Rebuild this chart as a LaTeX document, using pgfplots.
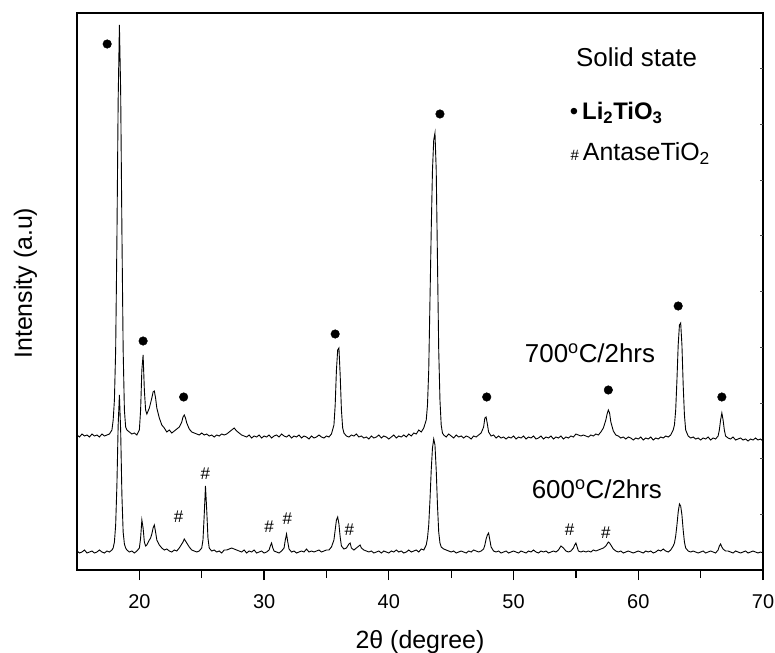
\documentclass[border=0pt]{standalone}
\usepackage{fontspec}
\setmainfont{Liberation Sans}
\usepackage{pgfplots}
\pgfplotsset{compat=1.18}
\usepackage{pgfplotstable}

% 600 C / 2 hrs pattern (y in plot units, 0 = bottom of the frame)
\pgfplotstableread{
x y
15.0 19
15.2 17
15.4 18
15.6 20
15.8 17
16.0 18
16.2 19
16.4 17
16.6 18
16.8 20
17.0 18
17.2 17
17.4 19
17.6 18
17.8 20
17.9 22
18.0 28
18.1 45
18.2 85
18.3 145
18.4 175
18.5 140
18.6 75
18.7 38
18.8 26
18.9 22
19.0 20
19.2 18
19.4 19
19.6 17
19.8 19
20.0 22
20.1 32
20.2 50
20.3 42
20.4 28
20.5 24
20.6 25
20.8 30
20.9 32
21.0 36
21.1 42
21.2 45
21.3 38
21.4 30
21.6 25
21.8 22
22.0 20
22.2 21
22.4 19
22.6 18
22.8 20
23.0 19
23.2 22
23.4 26
23.5 28
23.6 31
23.7 29
23.8 27
24.0 23
24.2 20
24.4 19
24.6 18
24.8 19
25.0 22
25.1 30
25.2 55
25.3 84
25.4 60
25.5 32
25.6 22
25.8 19
26.0 20
26.2 18
26.4 19
26.6 17
26.8 20
27.0 20
27.2 21
27.4 22
27.6 21
27.8 20
28.0 19
28.2 18
28.4 20
28.6 17
28.8 19
29.0 18
29.2 20
29.4 17
29.6 18
29.8 19
30.0 17
30.2 18
30.4 20
30.5 24
30.6 27
30.7 22
30.8 19
31.0 18
31.2 17
31.4 19
31.6 22
31.7 30
31.8 36
31.9 28
32.0 21
32.2 18
32.4 19
32.6 17
32.8 18
33.0 19
33.2 18
33.4 21
33.6 18
33.8 19
34.0 18
34.2 19
34.4 20
34.6 18
34.8 19
35.0 20
35.2 20
35.4 23
35.6 30
35.7 40
35.8 50
35.9 53
36.0 46
36.1 33
36.2 24
36.4 21
36.6 22
36.7 24
36.8 26
36.9 27
37.0 22
37.2 20
37.4 22
37.6 24
37.7 25
37.8 22
38.0 20
38.2 19
38.4 18
38.6 19
38.8 17
39.0 18
39.2 19
39.4 17
39.6 19
39.8 18
40.0 17
40.2 19
40.4 18
40.6 20
40.8 18
41.0 19
41.2 17
41.4 18
41.6 20
41.8 18
42.0 19
42.2 20
42.4 18
42.6 21
42.8 20
43.0 25
43.1 32
43.2 45
43.3 70
43.4 100
43.5 122
43.6 131
43.7 125
43.8 100
43.9 65
44.0 38
44.1 27
44.2 23
44.4 21
44.6 20
44.8 19
45.0 18
45.2 19
45.4 17
45.6 18
45.8 19
46.0 18
46.2 17
46.4 19
46.6 18
46.8 20
47.0 19
47.2 18
47.4 19
47.6 21
47.7 25
47.8 31
47.9 35
48.0 37
48.1 30
48.2 23
48.4 19
48.6 18
48.8 19
49.0 17
49.2 18
49.4 19
49.6 17
49.8 18
50.0 19
50.2 18
50.4 17
50.6 19
50.8 18
51.0 17
51.2 19
51.4 18
51.6 20
51.8 18
52.0 17
52.2 19
52.4 18
52.6 19
52.8 17
53.0 18
53.2 19
53.4 18
53.6 20
53.8 24
54.0 22
54.2 19
54.4 18
54.6 19
54.8 22
54.9 25
55.0 27
55.1 23
55.2 19
55.4 18
55.6 19
55.8 18
56.0 19
56.2 18
56.4 20
56.6 19
56.8 20
57.0 21
57.2 22
57.4 24
57.6 28
57.7 27
57.8 25
58.0 21
58.2 19
58.4 18
58.6 19
58.8 17
59.0 18
59.2 19
59.4 18
59.6 17
59.8 18
60.0 19
60.2 18
60.4 17
60.6 19
60.8 18
61.0 19
61.2 17
61.4 18
61.6 20
61.8 19
62.0 21
62.2 19
62.4 18
62.6 20
62.8 24
62.9 27
63.0 34
63.1 45
63.2 58
63.3 66
63.4 64
63.5 55
63.6 40
63.7 28
63.8 22
64.0 19
64.2 18
64.4 19
64.6 18
64.8 17
65.0 18
65.2 19
65.4 17
65.6 18
65.8 19
66.0 18
66.2 17
66.4 20
66.5 24
66.6 26
66.7 23
66.8 21
67.0 19
67.2 19
67.4 18
67.6 17
67.8 19
68.0 18
68.2 17
68.4 18
68.6 19
68.8 17
69.0 18
69.2 19
69.4 18
69.6 17
69.8 18
70.0 17
}\lowT

% 700 C / 2 hrs pattern
\pgfplotstableread{
x y
15.0 135
15.2 133
15.4 136
15.6 134
15.8 135
16.0 133
16.2 136
16.4 134
16.6 135
16.8 133
17.0 136
17.2 134
17.4 135
17.6 136
17.8 140
17.9 150
18.0 170
18.1 220
18.2 330
18.3 470
18.4 545
18.5 480
18.6 340
18.7 220
18.8 160
18.9 143
19.0 140
19.2 138
19.4 136
19.6 137
19.8 135
20.0 140
20.1 160
20.2 200
20.3 215
20.4 180
20.5 160
20.6 156
20.8 162
21.0 172
21.1 178
21.2 179
21.3 172
21.4 162
21.6 152
21.8 145
22.0 142
22.2 138
22.4 140
22.6 137
22.8 139
23.0 141
23.2 143
23.4 148
23.5 153
23.6 155
23.7 152
23.8 147
24.0 141
24.2 138
24.4 137
24.6 136
24.8 135
25.0 137
25.2 135
25.4 136
25.6 134
25.8 135
26.0 133
26.2 135
26.4 134
26.6 136
26.8 135
27.0 136
27.2 138
27.4 140
27.6 142
27.8 139
28.0 137
28.2 135
28.4 134
28.6 133
28.8 135
29.0 132
29.2 134
29.4 133
29.6 135
29.8 132
30.0 134
30.2 133
30.4 135
30.6 132
30.8 134
31.0 135
31.2 133
31.4 136
31.6 134
31.8 133
32.0 135
32.2 132
32.4 134
32.6 133
32.8 135
33.0 132
33.2 134
33.4 133
33.6 131
33.8 134
34.0 132
34.2 133
34.4 135
34.6 133
34.8 132
35.0 134
35.2 133
35.4 136
35.6 145
35.7 165
35.8 200
35.9 220
36.0 222
36.1 195
36.2 160
36.3 142
36.4 137
36.6 134
36.8 133
37.0 135
37.2 134
37.4 136
37.6 133
37.8 134
38.0 132
38.2 133
38.4 131
38.6 134
38.8 132
39.0 133
39.2 135
39.4 132
39.6 134
39.8 133
40.0 131
40.2 133
40.4 135
40.6 132
40.8 134
41.0 133
41.2 135
41.4 133
41.6 136
41.8 134
42.0 137
42.2 136
42.4 140
42.6 138
42.8 142
43.0 150
43.1 165
43.2 200
43.3 270
43.4 340
43.5 400
43.6 430
43.7 437
43.8 400
43.9 310
44.0 220
44.1 170
44.2 145
44.3 137
44.4 135
44.6 133
44.8 136
45.0 134
45.2 132
45.4 135
45.6 133
45.8 134
46.0 132
46.2 134
46.4 133
46.6 131
46.8 134
47.0 133
47.2 135
47.4 137
47.6 143
47.7 152
47.8 153
47.9 146
48.0 138
48.2 134
48.4 135
48.6 132
48.8 134
49.0 132
49.2 133
49.4 131
49.6 133
49.8 132
50.0 134
50.2 131
50.4 133
50.6 132
50.8 134
51.0 131
51.2 133
51.4 132
51.6 134
51.8 131
52.0 132
52.2 134
52.4 131
52.6 133
52.8 132
53.0 134
53.2 131
53.4 133
53.6 132
53.8 134
54.0 131
54.2 133
54.4 132
54.6 134
54.8 133
55.0 136
55.2 135
55.4 134
55.6 135
55.8 134
56.0 133
56.2 135
56.4 134
56.6 136
56.8 135
57.0 138
57.2 142
57.4 150
57.5 156
57.6 160
57.7 157
57.8 148
58.0 139
58.2 135
58.4 134
58.6 132
58.8 133
59.0 131
59.2 133
59.4 132
59.6 130
59.8 132
60.0 131
60.2 133
60.4 130
60.6 132
60.8 131
61.0 133
61.2 130
61.4 132
61.6 131
61.8 133
62.0 132
62.2 134
62.4 133
62.6 135
62.8 140
62.9 145
63.0 160
63.1 190
63.2 225
63.3 245
63.4 247
63.5 225
63.6 185
63.7 155
63.8 140
64.0 134
64.2 132
64.4 133
64.6 131
64.8 132
65.0 130
65.2 132
65.4 131
65.6 133
65.8 130
66.0 132
66.2 131
66.4 134
66.5 140
66.6 150
66.7 157
66.8 150
66.9 140
67.0 134
67.2 132
67.4 131
67.6 133
67.8 130
68.0 131
68.2 132
68.4 130
68.6 131
68.8 129
69.0 131
69.2 130
69.4 132
69.6 130
69.8 131
70.0 129
}\highT

\begin{document}
\begin{tikzpicture}
\begin{axis}[
    name=ax,
    scale only axis,
    width=686bp, height=557bp,
    xmin=15, xmax=70, ymin=0, ymax=557,
    xtick={20,30,40,50,60,70},
    minor x tick num=1,
    xtick pos=bottom,
    xtick align=outside,
    major tick length=10bp,
    minor tick length=8bp,
    ytick=\empty,
    extra y ticks={55.7,111.4,167.1,222.8,278.5,334.2,389.9,445.6,501.3},
    extra y tick labels={},
    extra y tick style={ytick pos=right, ytick align=inside,
        major tick length=3bp, tick style={line width=0.6bp, black!70}},
    every tick/.style={black, line width=1.2bp},
    axis line style={line width=1.6bp},
    /pgf/number format/assume math mode=true,
    xticklabel style={font=\fontsize{20}{24}\selectfont, yshift=-11bp},
    xlabel={2θ (degree)},
    xlabel style={at={([yshift=-78bp]axis description cs:0.5,0)}, anchor=base,
        font=\fontsize{25}{30}\selectfont},
    ylabel={Intensity (a.u)},
    ylabel style={at={([xshift=-45bp]axis description cs:0,0.515)}, anchor=base,
        font=\fontsize{25}{30}\selectfont},
    clip=false,
]
\addplot[black, line width=0.9bp] table[x=x, y=y] {\lowT};
\addplot[black, line width=0.9bp] table[x=x, y=y] {\highT};

% Li2TiO3 reflections
\addplot[only marks, mark=*, mark size=4.3bp, black] coordinates {
    (17.42,526) (20.3,229) (23.55,173) (35.7,236) (44.1,456)
    (47.85,173) (57.6,180) (63.2,264) (66.7,173)
};
% anatase TiO2 reflections
\addplot[only marks, mark=*, mark size=0pt, draw=none,
    nodes near coords={\#}, nodes near coords align={center},
    every node near coord/.append style={font=\fontsize{17}{20}\selectfont, anchor=center, inner sep=0pt}]
    coordinates {
    (23.15,53) (25.28,96) (30.4,43) (31.87,51) (36.83,40) (54.5,40) (57.4,37)
};

\node[anchor=base west, inner sep=0pt, font=\fontsize{26}{30}\selectfont]
    at (axis cs:50.9,208) {700\textsuperscript{o}C/2hrs};
\node[anchor=base west, inner sep=0pt, font=\fontsize{26}{30}\selectfont]
    at (axis cs:51.45,72) {600\textsuperscript{o}C/2hrs};
\node[anchor=base west, inner sep=0pt, font=\fontsize{26}{30}\selectfont]
    at (axis cs:55.0,503) {Solid state};
\node[anchor=base west, inner sep=0pt, font=\fontsize{24}{28}\selectfont]
    at (axis cs:54.5,450) {•\,\textbf{Li\textsubscript{2}TiO\textsubscript{3}}};
\node[anchor=base west, inner sep=0pt, font=\fontsize{25}{30}\selectfont]
    at (axis cs:54.55,409) {{\fontsize{15}{18}\selectfont\#}\,AntaseTiO\textsubscript{2}};
\end{axis}
\pgfresetboundingbox
\path[use as bounding box] ([xshift=-77bp,yshift=-82bp]ax.south west)
    rectangle ([xshift=12bp,yshift=13bp]ax.north east);
\end{tikzpicture}
\end{document}
